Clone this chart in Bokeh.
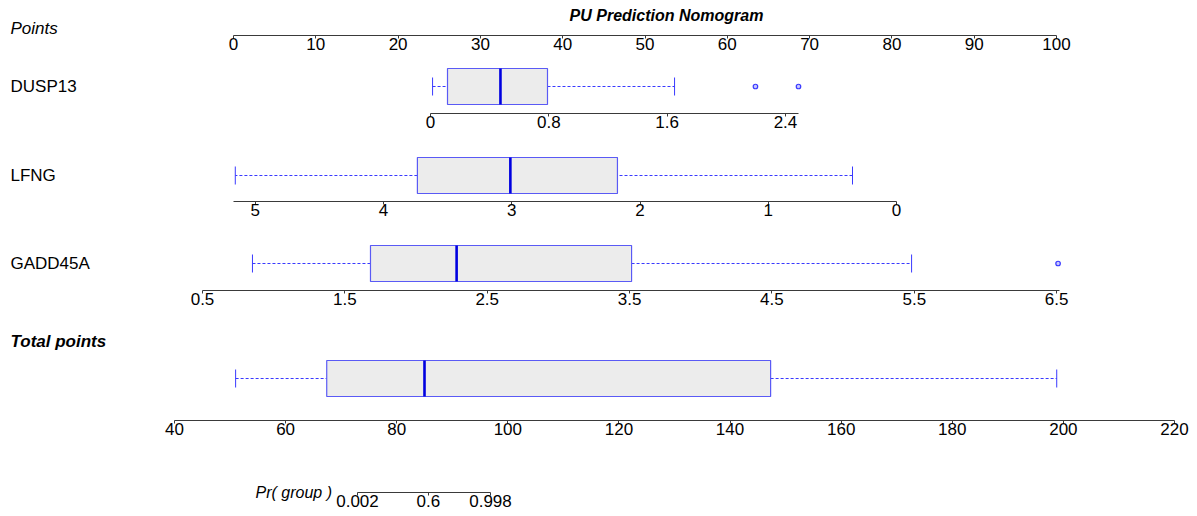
import math

from bokeh.embed import file_html
from bokeh.layouts import column
from bokeh.models import FixedTicker, Label, LinearAxis, Range1d
from bokeh.plotting import figure
from bokeh.resources import INLINE

# ---------------------------------------------------------------- content
title = "PU Prediction Nomogram"

points_ticks = [0, 10, 20, 30, 40, 50, 60, 70, 80, 90, 100]
dusp13_ticks = [0, 0.8, 1.6, 2.4]
lfng_ticks = [5, 4, 3, 2, 1, 0]
gadd45a_ticks = [0.5, 1.5, 2.5, 3.5, 4.5, 5.5, 6.5]
total_ticks = [40, 60, 80, 100, 120, 140, 160, 180, 200, 220]
pr_ticks = [0.002, 0.6, 0.998]

# extent of each scale
points_span = (0, 100)
dusp13_span = (0, 2.488)
lfng_span = (0, 5.17)
gadd45a_span = (0.5, 6.52)
total_span = (40, 220)
pr_span = (0.002, 0.998)

# box-plot summaries: lower whisker, Q1, median, Q3, upper whisker
dusp13_stats = [0.014, 0.115, 0.473, 0.791, 1.65]
dusp13_outliers = [2.197, 2.488]
lfng_stats = [0.343, 2.176, 3.011, 3.736, 5.156]
lfng_outliers = []
gadd45a_stats = [0.851, 1.680, 2.285, 3.514, 5.481]
gadd45a_outliers = [6.51]
total_stats = [51.0, 67.4, 85.0, 147.3, 198.8]
total_outliers = []

# ---------------------------------------------------------------- styling
W = 1197
FONT = "Liberation Sans"
FS = "17px"
BOX_FILL = "#ececec"
BOX_LINE = "#5a5af5"
WHISKER = "#3a3aff"
MEDIAN = "#0000e0"
AXIS = "#3a3a3a"


def logit(p):
    return math.log(p / (1 - p))


def make_row(top, axis_y, bottom, span, px_span, ticks, overrides=None,
             inside=False):
    """One horizontal band carrying a scale at page height axis_y.

    By default the scale sits on the frame's bottom edge; with inside=True the
    frame fills the whole band and the scale is pinned inside it, so that text
    can straddle the scale line without being clipped.
    """
    (v0, v1), (x0, x1) = span, px_span
    s = (x1 - x0) / (v1 - v0)
    start = v0 - x0 / s
    end = start + W / s
    frame_bottom = bottom if inside else axis_y
    p = figure(
        width=W, height=bottom - top,
        x_range=Range1d(start, end), y_range=Range1d(0, frame_bottom - top),
        x_axis_location=None, y_axis_location=None,
        toolbar_location=None, output_backend="svg",
        min_border_left=0, min_border_right=0, min_border_top=0,
        min_border_bottom=bottom - frame_bottom,
    )
    p.outline_line_color = None
    p.background_fill_color = "white"
    p.border_fill_color = "white"
    p.grid.visible = False
    ax = LinearAxis(
        bounds=(min(v0, v1), max(v0, v1)),
        ticker=FixedTicker(ticks=ticks),
        axis_line_color=AXIS, axis_line_width=1,
        major_tick_line_color=AXIS, major_tick_in=0, major_tick_out=3,
        minor_tick_line_color=None,
        major_label_standoff=-1,
        major_label_text_font=FONT, major_label_text_font_size=FS,
        major_label_text_color="black",
    )
    if inside:
        ax.fixed_location = bottom - axis_y
    if overrides:
        ax.major_label_overrides = overrides
    p.add_layout(ax, "below")
    return p


def row_label(p, text, y, style="normal", x=10, size=FS):
    p.add_layout(Label(
        x=x, x_units="screen", y=y, text=text,
        text_font=FONT, text_font_size=size, text_font_style=style,
        text_baseline="middle", text_color="black",
    ))


def draw_box(p, stats, outliers, cy, half=18):
    lo, q1, med, q3, hi = stats
    p.segment(x0=[lo, q3], y0=[cy, cy], x1=[q1, hi], y1=[cy, cy],
              line_color=WHISKER, line_width=1, line_dash="3 2")
    p.segment(x0=[lo, hi], y0=[cy - 9, cy - 9], x1=[lo, hi], y1=[cy + 9, cy + 9],
              line_color=WHISKER, line_width=1)
    p.quad(left=[q1], right=[q3], bottom=[cy - half], top=[cy + half],
           fill_color=BOX_FILL, line_color=BOX_LINE, line_width=1.2)
    p.segment(x0=[med], y0=[cy - half], x1=[med], y1=[cy + half],
              line_color=MEDIAN, line_width=2.6)
    if outliers:
        p.scatter(x=outliers, y=[cy] * len(outliers), marker="circle", size=4.5,
                  fill_color="#c8c8ff", line_color=WHISKER, line_width=1.2)


# Points
p0 = make_row(0, 35, 60, points_span, (233, 1056), points_ticks)
p0.add_layout(Label(
    x=666, x_units="screen", y=20, text=title, text_align="center",
    text_baseline="middle", text_font=FONT, text_font_size="16px",
    text_font_style="bold italic", text_color="black",
))
row_label(p0, "Points", 7, "italic")

# DUSP13
p1 = make_row(60, 113, 138, dusp13_span, (430, 798), dusp13_ticks, {0: "0"})
draw_box(p1, dusp13_stats, dusp13_outliers, 27)
row_label(p1, "DUSP13", 27)

# LFNG (reversed scale)
p2 = make_row(138, 201, 226, lfng_span, (896, 233), lfng_ticks)
draw_box(p2, lfng_stats, lfng_outliers, 26)
row_label(p2, "LFNG", 26)

# GADD45A
p3 = make_row(226, 290, 315, gadd45a_span, (202, 1059), gadd45a_ticks)
draw_box(p3, gadd45a_stats, gadd45a_outliers, 27)
row_label(p3, "GADD45A", 27)

# Total points
p4 = make_row(315, 420, 445, total_span, (174, 1174), total_ticks)
draw_box(p4, total_stats, total_outliers, 42)
row_label(p4, "Total points", 79, "bold italic")

# Probability scale (linear in the logit)
pr_logit = [logit(v) for v in pr_ticks]
p5 = make_row(445, 492, 516, (logit(pr_span[0]), logit(pr_span[1])), (357, 490),
              pr_logit, {k: str(v) for k, v in zip(pr_logit, pr_ticks)},
              inside=True)
row_label(p5, "Pr( group )", 516 - 492, "italic", x=255, size="16px")

layout = column(p0, p1, p2, p3, p4, p5, spacing=0)

with open("out.html", "w") as f:
    f.write(file_html(layout, INLINE))
